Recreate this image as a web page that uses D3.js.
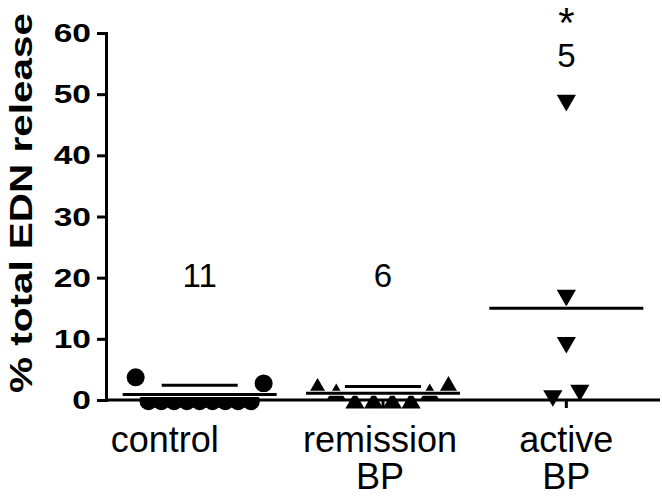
<!DOCTYPE html>
<html>
<head>
<meta charset="utf-8">
<script src="https://cdn.jsdelivr.net/npm/d3@7"></script>
<style>
  body { margin: 0; background: #fff; }
  text { font-family: "Liberation Sans", Arial, sans-serif; fill: #000; }
</style>
</head>
<body>
<div id="chart"></div>
<script>
// groups along the x axis
const categories = ["control", "remission BP", "active BP"];
const categoryLines = [["control"], ["remission", "BP"], ["active", "BP"]];

// individual values (% total EDN release), left-to-right as plotted
const controlValues = [3.7, -0.2, -0.2, -0.2, -0.2, -0.2, -0.2, -0.2, -0.2, -0.2, 2.7];
const remissionValues = [1.8, 0.9, -0.5, -0.5, -0.5, -0.5, 0.9, 2.1];
const activeValues = [0.7, 49.0, 17.1, 9.4, 1.6];

// horizontal summary lines
const meanValues = [0.9, 1.1, 15.0];
const upperBarValues = [2.4, 2.2, null];

// group size labels and significance mark
const nLabels = ["11", "6", "5"];
const starLabels = ["", "", "*"];

const yTicks = [0, 10, 20, 30, 40, 50, 60];

// layout
const W = 662, H = 497;
const axisX = 106;
const markerKind = ["circle", "up", "down"];
const groupSpacing = [12.8, 18.7, 27];
const labelDx = [-35, -3, 0];
const nLabelY = [287, 287, 67];

const svg = d3.select("#chart").append("svg")
  .attr("width", W)
  .attr("height", H);

const y = d3.scaleLinear().domain([0, 60]).range([400, 33]);
const x = d3.scaleBand().domain(categories).range([108, 658]).padding(0);

// y axis (labels drawn separately so they can be widened like the original)
const yAxis = svg.append("g")
  .attr("transform", `translate(${axisX},0)`)
  .call(d3.axisLeft(y).tickValues(yTicks).tickSize(9).tickSizeOuter(0).tickFormat(""));
yAxis.select(".domain").attr("stroke-width", 3).attr("stroke-linecap", "square");
yAxis.selectAll(".tick line").attr("stroke-width", 3);

svg.append("g").selectAll("text")
  .data(yTicks)
  .enter()
  .append("text")
  .attr("transform", d => `translate(${axisX - 15},${y(d)}) scale(1.34,1)`)
  .attr("dy", "0.36em")
  .attr("text-anchor", "end")
  .attr("font-size", 25)
  .attr("font-weight", "bold")
  .text(d => d);

// y axis title
svg.append("text")
  .attr("transform", "translate(32,203) rotate(-90)")
  .attr("text-anchor", "middle")
  .attr("font-size", 32)
  .attr("font-weight", "bold")
  .attr("textLength", 380)
  .attr("lengthAdjust", "spacingAndGlyphs")
  .text("% total EDN release");

// x axis line and ticks
svg.append("line")
  .attr("x1", axisX).attr("x2", 660)
  .attr("y1", y(0)).attr("y2", y(0))
  .attr("stroke", "#000").attr("stroke-width", 3);
svg.selectAll(".xtick")
  .data(categories)
  .enter()
  .append("line")
  .attr("class", "xtick")
  .attr("x1", d => x(d) + x.bandwidth() / 2)
  .attr("x2", d => x(d) + x.bandwidth() / 2)
  .attr("y1", y(0)).attr("y2", y(0) + 8)
  .attr("stroke", "#000").attr("stroke-width", 3);

// category labels
categories.forEach((c, i) => {
  const t = svg.append("text")
    .attr("x", x(c) + x.bandwidth() / 2 + labelDx[i])
    .attr("y", 452)
    .attr("text-anchor", "middle")
    .attr("font-size", 36);
  categoryLines[i].forEach((line, j) => {
    t.append("tspan")
      .attr("x", x(c) + x.bandwidth() / 2 + labelDx[i])
      .attr("dy", j === 0 ? 0 : 37)
      .text(line);
  });
});

// place points: values that would overlap are spread side by side
function layoutGroup(vals, cx, spacing) {
  const idx = vals.map((v, i) => i).sort((a, b) => y(vals[a]) - y(vals[b]));
  const clusters = [];
  let cur = [idx[0]];
  for (let k = 1; k < idx.length; k++) {
    if (y(vals[idx[k]]) - y(vals[idx[k - 1]]) < 19) cur.push(idx[k]);
    else { clusters.push(cur); cur = [idx[k]]; }
  }
  clusters.push(cur);
  const xs = [];
  clusters.forEach(cl => {
    cl.sort((a, b) => a - b);
    cl.forEach((i, k) => { xs[i] = cx + (k - (cl.length - 1) / 2) * spacing; });
  });
  return vals.map((v, i) => ({ v: v, x: xs[i] }));
}

const allValues = [controlValues, remissionValues, activeValues];
const circle = d3.symbol().type(d3.symbolCircle).size(Math.PI * 81);
const tri = d3.symbol().type(d3.symbolTriangle).size(160);

allValues.forEach((vals, gi) => {
  const cx = x(categories[gi]) + x.bandwidth() / 2;
  const pts = layoutGroup(vals, cx, groupSpacing[gi]);
  svg.append("g").selectAll("path")
    .data(pts)
    .enter()
    .append("path")
    .attr("d", markerKind[gi] === "circle" ? circle() : tri())
    .attr("transform", d => `translate(${d.x},${y(d.v)})` + (markerKind[gi] === "down" ? " rotate(180)" : ""))
    .attr("fill", "#000");
});

// mean lines and upper bars (white halo like the original export)
function hLine(cx, half, v) {
  svg.append("line")
    .attr("x1", cx - half).attr("x2", cx + half)
    .attr("y1", y(v)).attr("y2", y(v))
    .attr("stroke", "#fff").attr("stroke-width", 5);
  svg.append("line")
    .attr("x1", cx - half).attr("x2", cx + half)
    .attr("y1", y(v)).attr("y2", y(v))
    .attr("stroke", "#000").attr("stroke-width", 3);
}
categories.forEach((c, i) => {
  const cx = x(c) + x.bandwidth() / 2;
  if (upperBarValues[i] != null) hLine(cx, 38, upperBarValues[i]);
  hLine(cx, 77, meanValues[i]);
});

// n labels, with the significance star stacked above where there is one
categories.forEach((c, i) => {
  const cx = x(c) + x.bandwidth() / 2;
  const t = svg.append("text")
    .attr("text-anchor", "middle");
  if (starLabels[i]) {
    t.append("tspan")
      .attr("x", cx)
      .attr("y", 37)
      .attr("font-size", 42)
      .text(starLabels[i]);
  }
  t.append("tspan")
    .attr("x", cx)
    .attr("y", nLabelY[i])
    .attr("font-size", 33)
    .text(nLabels[i]);
});
</script>
</body>
</html>
